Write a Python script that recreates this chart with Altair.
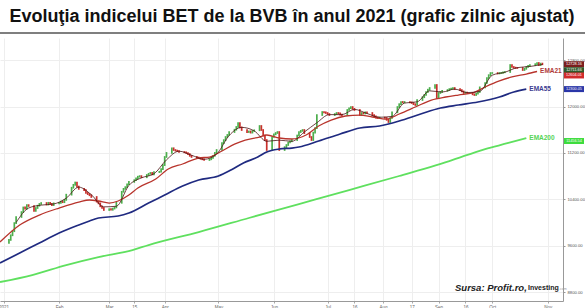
import altair as alt
import pandas as pd

# ---------------- data ----------------
jan = [9700, 9780, 9850, 9990, 10095, 10180, 10260, 10240, 10300, 10285,
       10200, 10250, 10290, 10320, 10336, 10310, 10340, 10320, 10300, 10330]
feb = [10340, 10360, 10350, 10390, 10480, 10600, 10650, 10690, 10620, 10580,
       10560, 10510, 10490, 10470, 10440, 10360, 10330, 10280, 10250, 10216]
mar = [10230, 10220, 10240, 10260, 10340, 10530, 10580, 10610, 10660, 10700,
       10730, 10760, 10790, 10800, 10780, 10820, 10840, 10855, 10830, 10870,
       10875, 10920, 10990]
apr = [11130, 11200, 11280, 11250, 11240, 11230, 11216, 11210, 11198, 11180,
       11150, 11130, 11120, 11112, 11100, 11090, 11078, 11090, 11112, 11150,
       11200, 11250]
may = [11370, 11420, 11474, 11510, 11560, 11600, 11647, 11715, 11640, 11595,
       11560, 11570, 11550, 11578, 11590, 11664, 11595, 11500, 11422, 11250,
       11474]
jun = [11520, 11543, 11560, 11250, 11300, 11336, 11380, 11400, 11422, 11500,
       11560, 11580, 11595, 11540, 11474, 11422, 11550, 11629, 11853, 11905,
       11900, 11888]
jul = [11870, 11853, 11870, 11888, 11880, 11860, 11853, 11940, 11970, 11991,
       11960, 11940, 11853, 11888, 11880, 11900, 11888, 11853, 11830, 11810,
       11802, 11810]
aug = [11802, 11770, 11733, 11802, 11900, 11991, 12040, 12078, 12070, 12078,
       12070, 12060, 12040, 12026, 12112, 12160, 12198, 12250, 12290, 12319,
       12371, 12146]
sep = [12233, 12250, 12270, 12284, 12300, 12310, 12319, 12300, 12284, 12260,
       12233, 12240, 12233, 12210, 12198, 12220, 12250, 12330, 12405, 12491,
       12540, 12577]
octo = [12577, 12570, 12577, 12580, 12590, 12595, 12715, 12681, 12670, 12665,
        12664, 12629, 12650, 12681, 12700, 12715, 12730, 12750, 12715, 12740,
        12728]
first_open = 9650

short_vals = [10000, 10250, 10300, 10320, 10420, 10610, 10480, 10270, 10280, 10640,
              10770, 10840, 11080, 11230, 11160, 11090, 11180, 11500, 11640, 11580,
              11400, 11420, 11400, 11560, 11720, 11860, 11860, 11950, 11880, 11815,
              11830, 12060, 12080, 12270, 12250, 12300, 12240, 12260, 12540, 12590,
              12670, 12690, 12725]

ema21_dates = ["2020-12-30", "2021-01-10", "2021-01-21", "2021-02-01", "2021-02-12", "2021-02-18",
               "2021-02-23", "2021-03-01", "2021-03-06", "2021-03-12", "2021-03-17", "2021-03-27",
               "2021-04-03", "2021-04-11", "2021-04-20", "2021-04-26", "2021-05-03", "2021-05-10",
               "2021-05-16", "2021-05-24", "2021-05-28", "2021-06-04", "2021-06-11", "2021-06-19",
               "2021-06-26", "2021-07-03", "2021-07-11", "2021-07-19", "2021-07-26", "2021-08-03",
               "2021-08-10", "2021-08-19", "2021-08-28", "2021-09-05", "2021-09-12", "2021-09-20",
               "2021-09-27", "2021-10-05", "2021-10-12", "2021-10-20", "2021-10-26"]
ema21_vals = [9664, 9957, 10129, 10250, 10353, 10388, 10371, 10336, 10371, 10474,
              10595, 10750, 10922, 11009, 11112, 11129, 11233, 11353, 11422, 11474,
              11509, 11457, 11440, 11509, 11664, 11767, 11836, 11853, 11819, 11784,
              11871, 11991, 12112, 12164, 12198, 12233, 12336, 12440, 12509, 12560, 12604]

ema55_dates = ["2020-12-30", "2021-01-10", "2021-01-21", "2021-02-01", "2021-02-12", "2021-02-18",
               "2021-02-23", "2021-03-06", "2021-03-12", "2021-03-23", "2021-04-01", "2021-04-11",
               "2021-04-20", "2021-05-01", "2021-05-08", "2021-05-15", "2021-05-23", "2021-05-28",
               "2021-06-04", "2021-06-11", "2021-06-15", "2021-06-26", "2021-07-08", "2021-07-19",
               "2021-07-30", "2021-08-10", "2021-08-22", "2021-09-02", "2021-09-12", "2021-09-23",
               "2021-10-05", "2021-10-13", "2021-10-20"]
ema55_vals = [9302, 9474, 9647, 9819, 9957, 10026, 10078, 10112, 10164, 10336,
              10474, 10629, 10733, 10802, 10905, 11026, 11129, 11216, 11267, 11284,
              11302, 11405, 11526, 11629, 11664, 11750, 11871, 11974, 12026, 12078,
              12164, 12250, 12300]

ema200_dates = ["2020-12-30", "2021-01-17", "2021-02-05", "2021-02-23", "2021-03-14", "2021-03-23",
                "2021-04-20", "2021-05-18", "2021-06-15", "2021-07-13", "2021-08-10", "2021-09-07",
                "2021-09-27", "2021-10-10", "2021-10-20"]
ema200_vals = [8974, 9095, 9267, 9405, 9526, 9612, 9836, 10078, 10319, 10560,
               10802, 11060, 11267, 11371, 11457]

box_values = [12728.16, 12711.66, 12604.01, 12300.05, 11456.54]
box_colors = ["#7a1d1d", "#2f5a2a", "#d12b2b", "#2a36a8", "#3ddc3d"]
box_shift = [0, 5, 4, 0, 3]

y_ticks = list(range(8800, 13001, 200))
title_text = "Evoluţia indicelui BET de la BVB în anul 2021 (grafic zilnic ajustat)"

# ---------------- tables ----------------
closes = jan + feb + mar + apr + may + jun + jul + aug + sep + octo
days = pd.bdate_range("2021-01-04", "2021-10-29")[:len(closes)]
opens = [first_open] + closes[:-1]
price = pd.DataFrame({"date": days, "open": opens, "close": closes})
price["dir"] = ["up" if c >= o else "down" for o, c in zip(opens, closes)]

short = pd.DataFrame({"date": pd.date_range("2021-01-08", "2021-10-29", freq="W-FRI")[:len(short_vals)],
                      "v": short_vals})
e21 = pd.DataFrame({"date": pd.to_datetime(ema21_dates), "v": ema21_vals})
e55 = pd.DataFrame({"date": pd.to_datetime(ema55_dates), "v": ema55_vals})
e200 = pd.DataFrame({"date": pd.to_datetime(ema200_dates), "v": ema200_vals})

W, H = 563, 263
xscale = alt.Scale(domain=[alt.DateTime(year=2020, month=12, date=30),
                           alt.DateTime(year=2021, month=11, date=9, hours=12)])
yscale = alt.Scale(domain=[8647, 13181], nice=False, zero=False)

tick_dates = [alt.DateTime(year=2021, month=m, date=d) for m, d in
              [(1, 1), (2, 1), (3, 1), (3, 15), (4, 1), (5, 1), (6, 1), (7, 1), (7, 16),
               (8, 1), (8, 17), (9, 1), (9, 16), (10, 1), (11, 1)]]

FONT = "Liberation Sans"

xaxis = alt.Axis(values=tick_dates, title=None, labelFontSize=4.5, labelColor="#666",
                 labelFont=FONT, tickSize=2, tickColor="#aaa", domainColor="#999",
                 gridColor="#eeeeee", labelPadding=1, labelOverlap=False,
                 labelExpr="date(datum.value)==1 && month(datum.value)==0 ? '2021' : "
                           "(date(datum.value)==1 ? timeFormat(datum.value,'%b') : timeFormat(datum.value,'%d'))")
yaxis = alt.Axis(orient="right", values=y_ticks, format=".2f", title=None, labelFontSize=4.2,
                 labelColor="#555", labelFont=FONT, tickSize=2, tickColor="#999",
                 domainColor="#999", gridColor="#eeeeee", labelPadding=2, labelOverlap=False,
                 labelBound=False)

candles = alt.Chart(price).mark_rule(strokeWidth=1.7, strokeCap="square").encode(
    x=alt.X("date:T", scale=xscale, axis=xaxis),
    y=alt.Y("open:Q", scale=yscale, axis=yaxis),
    y2="close:Q",
    color=alt.Color("dir:N", scale=alt.Scale(domain=["up", "down"], range=["#4cae4c", "#c9302c"]),
                    legend=None),
)


def line(df, color, width):
    return alt.Chart(df).mark_line(color=color, strokeWidth=width, interpolate="monotone").encode(
        x=alt.X("date:T", scale=xscale), y=alt.Y("v:Q", scale=yscale))


l200 = line(e200, "#5fe05f", 1.8)
l55 = line(e55, "#1f2a80", 1.7)
l21 = line(e21, "#b8342c", 1.3)
lshort = line(short, "#4a1212", 0.8)


def end_label(df, text, color):
    last = df.tail(1).assign(t=text)
    return alt.Chart(last).mark_text(align="left", baseline="middle", dx=3, fontSize=6.5,
                                     fontWeight="bold", font=FONT, color=color).encode(
        x=alt.X("date:T", scale=xscale), y=alt.Y("v:Q", scale=yscale), text="t:N")


lab21 = end_label(e21, "EMA21", "#b03a3a")
lab55 = end_label(e55, "EMA55", "#3b3b8f")
lab200 = end_label(e200, "EMA200", "#55d455")

boxes = []
for val, col, sh in zip(box_values, box_colors, box_shift):
    bd = pd.DataFrame({"v": [val], "t": [f"{val:.2f}"]})
    boxes.append(alt.Chart(bd).mark_point(shape="M-1,-0.3L1,-0.3L1,0.3L-1,0.3Z", filled=True,
                                          size=400, opacity=1, color=col, strokeWidth=0,
                                          yOffset=sh).encode(
        x=alt.value(574), y=alt.Y("v:Q", scale=yscale)))
    boxes.append(alt.Chart(bd).mark_text(fontSize=3.8, color="white", font=FONT, yOffset=sh,
                                         align="center", baseline="middle").encode(
        x=alt.value(574), y=alt.Y("v:Q", scale=yscale), text="t:N"))

one = pd.DataFrame({"t": [title_text]})
title = alt.Chart(one).mark_text(fontSize=18, fontWeight="bold", font=FONT, color="#111",
                                 align="center", baseline="middle").encode(
    x=alt.value(292), y=alt.value(-21), text="t:N")
rule = alt.Chart(one).mark_rule(color="#555", strokeWidth=1.5).encode(
    x=alt.value(0), x2=alt.value(585), y=alt.value(-5))

src1 = alt.Chart(pd.DataFrame({"t": ["Sursa: Profit.ro,"]})).mark_text(
    fontSize=9.5, fontWeight="bold", fontStyle="italic", font=FONT, color="#222",
    align="left", baseline="middle").encode(x=alt.value(455), y=alt.value(250), text="t:N")
src2 = alt.Chart(pd.DataFrame({"t": ["Investing"]})).mark_text(
    fontSize=7, fontWeight="bold", font=FONT, color="#222",
    align="left", baseline="middle").encode(x=alt.value(528), y=alt.value(250), text="t:N")
src3 = alt.Chart(pd.DataFrame({"t": [".com"]})).mark_text(
    fontSize=3.5, font=FONT, color="#999",
    align="left", baseline="middle").encode(x=alt.value(559), y=alt.value(251), text="t:N")

chart = alt.layer(candles, l200, l55, l21, lshort, lab21, lab55, lab200, *boxes,
                  title, rule, src1, src2, src3).properties(
    width=W, height=H, autosize="none",
    padding={"left": 0, "top": 38, "right": 22, "bottom": 7},
    background="white",
).configure_view(strokeWidth=0)

chart.save("out.html", embed_options={"renderer": "svg", "actions": False})
